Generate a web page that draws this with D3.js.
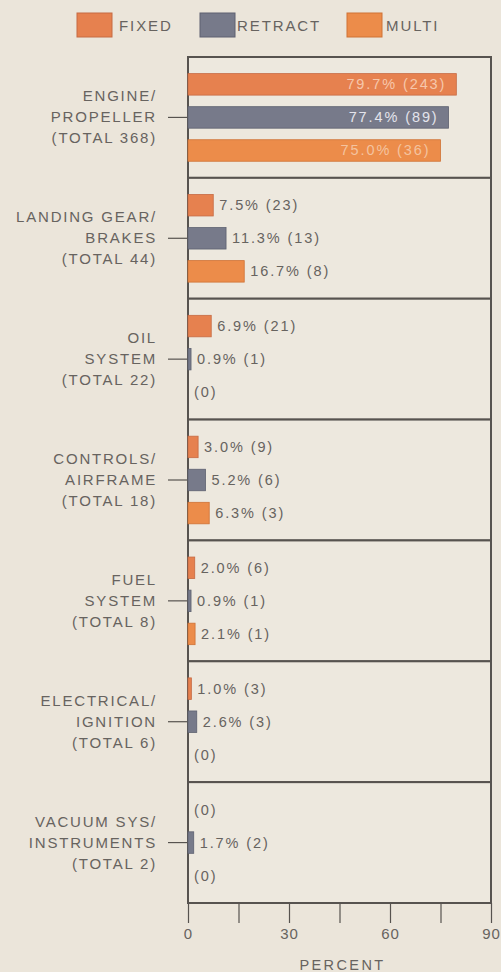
<!DOCTYPE html>
<html>
<head>
<meta charset="utf-8">
<script src="https://cdn.jsdelivr.net/npm/d3@7"></script>
<style>
  html, body { margin: 0; padding: 0; background: #ebe5da; }
  svg { display: block; }
  text { font-family: "Liberation Sans", Arial, sans-serif; }
</style>
</head>
<body>
<svg id="chart" width="501" height="972"></svg>
<script>
const categories = [
  ["ENGINE/", "PROPELLER", "(TOTAL 368)"],
  ["LANDING GEAR/", "BRAKES", "(TOTAL 44)"],
  ["OIL", "SYSTEM", "(TOTAL 22)"],
  ["CONTROLS/", "AIRFRAME", "(TOTAL 18)"],
  ["FUEL", "SYSTEM", "(TOTAL 8)"],
  ["ELECTRICAL/", "IGNITION", "(TOTAL 6)"],
  ["VACUUM SYS/", "INSTRUMENTS", "(TOTAL 2)"]
];
const seriesNames = ["FIXED", "RETRACT", "MULTI"];
const fixedPct   = [79.7, 7.5, 6.9, 3.0, 2.0, 1.0, 0];
const fixedN     = [243, 23, 21, 9, 6, 3, 0];
const retractPct = [77.4, 11.3, 0.9, 5.2, 0.9, 2.6, 1.7];
const retractN   = [89, 13, 1, 6, 1, 3, 2];
const multiPct   = [75.0, 16.7, 0, 6.3, 2.1, 0, 0];
const multiN     = [36, 8, 0, 3, 1, 0, 0];
const xTicks = [0, 15, 30, 45, 60, 75, 90];
const xTickLabels = ["0", "", "30", "", "60", "", "90"];
const axisTitle = "PERCENT";

const colors = { FIXED: "#e6814f", RETRACT: "#777a8a", MULTI: "#ec8c4a" };
const strokes = { FIXED: "#c66a43", RETRACT: "#5e6170", MULTI: "#cf7235" };
const insideFill = { FIXED: "#f6c7ab", RETRACT: "#e4e4ec", MULTI: "#f4c39f" };
const textColor = "#67635f";
const lineColor = "#57534f";

const svg = d3.select("#chart");
const plotLeft = 188, plotRight = 491, plotTop = 57, plotBottom = 903;

const x = d3.scaleLinear().domain([0, 90]).range([plotLeft, plotRight]);
const y0 = d3.scaleBand().domain(d3.range(categories.length)).range([plotTop, plotBottom]).padding(0);
const h = y0.bandwidth();
const y1 = d3.scaleBand().domain(seriesNames).range([10, h - 10]).paddingInner(0.35).paddingOuter(0.2);

const pct = { FIXED: fixedPct, RETRACT: retractPct, MULTI: multiPct };
const cnt = { FIXED: fixedN, RETRACT: retractN, MULTI: multiN };

// Legend
const legendPos = [{ sx: 77, tx: 119 }, { sx: 200, tx: 237 }, { sx: 347, tx: 386 }];
const legend = svg.append("g");
seriesNames.forEach((s, i) => {
  legend.append("rect").attr("x", legendPos[i].sx).attr("y", 13).attr("width", 35).attr("height", 24)
    .attr("fill", colors[s]).attr("stroke", strokes[s]).attr("stroke-width", 1);
  legend.append("text").attr("x", legendPos[i].tx).attr("y", 31).attr("font-size", 15)
    .attr("letter-spacing", 1.9).attr("fill", textColor).text(s);
});

// Panels
const panels = svg.append("g").selectAll("g").data(categories).join("g")
  .attr("transform", (d, i) => `translate(0,${y0(i)})`);

panels.append("rect").attr("x", plotLeft).attr("y", 0).attr("width", plotRight - plotLeft).attr("height", h)
  .attr("fill", "#ede8de").attr("stroke", lineColor).attr("stroke-width", 2);

panels.each(function (lines, i) {
  const g = d3.select(this);
  const mid = y1("RETRACT") + y1.bandwidth() / 2;
  lines.forEach((ln, k) => {
    g.append("text").attr("x", 157).attr("y", mid + (k - 1) * 21 + 5)
      .attr("text-anchor", "end").attr("font-size", 15).attr("letter-spacing", 1.8)
      .attr("fill", textColor).text(ln);
  });
  g.append("line").attr("x1", 168).attr("x2", plotLeft).attr("y1", mid).attr("y2", mid)
    .attr("stroke", lineColor).attr("stroke-width", 1.2);

  seriesNames.forEach(s => {
    const v = pct[s][i], n = cnt[s][i];
    const by = y1(s), bw = y1.bandwidth();
    if (v > 0) {
      g.append("rect").attr("x", x(0)).attr("y", by).attr("width", x(v) - x(0)).attr("height", bw)
        .attr("fill", colors[s]).attr("stroke", strokes[s]).attr("stroke-width", 0.8);
    }
    const label = v > 0 ? `${v.toFixed(1)}% (${n})` : `(${n})`;
    const inside = v > 50;
    g.append("text")
      .attr("x", inside ? x(v) - 10 : x(v) + 6)
      .attr("y", by + bw / 2 + 5)
      .attr("text-anchor", inside ? "end" : "start")
      .attr("font-size", 14.5).attr("letter-spacing", 1.9)
      .attr("fill", inside ? insideFill[s] : textColor)
      .text(label);
  });
});

// X axis
const axis = d3.axisBottom(x).tickValues(xTicks).tickSize(20)
  .tickFormat((d, i) => xTickLabels[i]);
const ax = svg.append("g").attr("transform", `translate(0,${plotBottom})`).call(axis);
ax.select(".domain").remove();
ax.selectAll(".tick line").attr("stroke", lineColor).attr("stroke-width", 1.2);
ax.selectAll(".tick text").attr("fill", textColor).attr("font-size", 15).attr("letter-spacing", 1)
  .attr("font-family", "Liberation Sans, Arial, sans-serif").attr("y", 25).attr("dy", "0.71em");

svg.append("text").attr("x", (plotLeft + plotRight) / 2 + 3).attr("y", 970)
  .attr("text-anchor", "middle").attr("font-size", 14.5).attr("letter-spacing", 2.4)
  .attr("fill", textColor).text(axisTitle);
</script>
</body>
</html>
